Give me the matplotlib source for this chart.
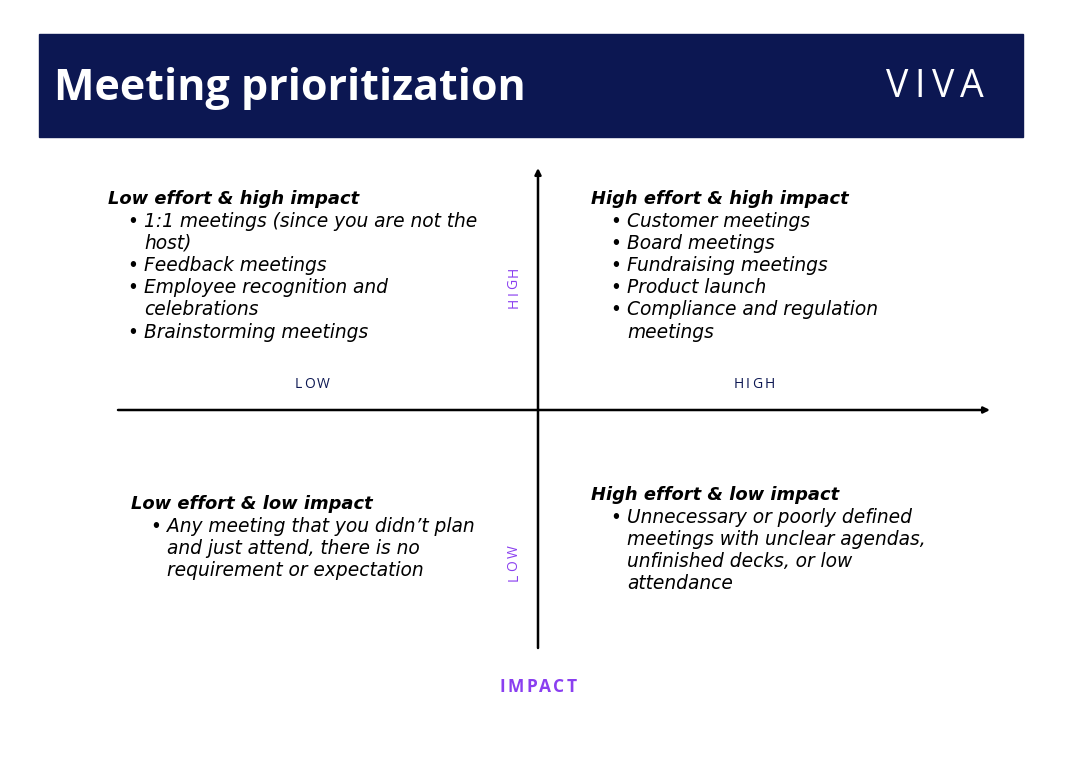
import matplotlib
matplotlib.use('Agg')
import matplotlib.pyplot as plt

W, H = 1080, 758
NAVY = '#0c1752'
PURPLE = '#8a3ff0'
HEAD_FONT = 'Open Sans'
BODY_FONT = 'DejaVu Sans'

title = 'Meeting prioritization'
logo = 'VIVA'

quadrant_titles = [
    'Low effort & high impact',
    'High effort & high impact',
    'Low effort & low impact',
    'High effort & low impact',
]
# каждый пункт уже разбит на строки, как на картинке
quadrant_items = [
    [['1:1 meetings (since you are not the', 'host)'],
     ['Feedback meetings'],
     ['Employee recognition and', 'celebrations'],
     ['Brainstorming meetings']],
    [['Customer meetings'],
     ['Board meetings'],
     ['Fundraising meetings'],
     ['Product launch'],
     ['Compliance and regulation', 'meetings']],
    [['Any meeting that you didn\u2019t plan', 'and just attend, there is no',
      'requirement or expectation']],
    [['Unnecessary or poorly defined', 'meetings with unclear agendas,',
      'unfinished decks, or low', 'attendance']],
]
effort_labels = ['LOW', 'HIGH']
impact_labels = ['HIGH', 'LOW']
impact_title = 'IMPACT'

# left x, top y of each block (px)
block_pos = [(108, 199), (591, 199), (131, 504), (591, 495)]
LINE = 22.2

fig = plt.figure(figsize=(W / 100, H / 100), dpi=100)
ax = fig.add_axes([0, 0, 1, 1])
ax.set_xlim(0, W)
ax.set_ylim(H, 0)
ax.axis('off')


def spaced(x, y, s, spacing, **kw):
    # текст с разрядкой: правый край каждой буквы = ширина префикса + разрядка
    r = fig.canvas.get_renderer()
    rot = kw.pop('rotation', 0)

    def width(part):
        t = ax.text(0, 0, part, **kw)
        w = t.get_window_extent(renderer=r).width
        t.remove()
        return w

    total = width(s) + spacing * (len(s) - 1)
    for i, ch in enumerate(s):
        c = width(s[:i + 1]) + spacing * i - total / 2
        if rot == 90:
            ax.text(x, y - c, ch, ha='right', va='center', rotation=90,
                    rotation_mode='anchor', **kw)
        else:
            ax.text(x + c, y, ch, ha='right', va='center', **kw)


# header
ax.add_patch(plt.Rectangle((39, 34), 984, 103, color=NAVY, zorder=0))
ax.text(54, 88, title, color='white', fontsize=31, fontweight='bold',
        family=HEAD_FONT, va='center', ha='left')
spaced(935, 87, logo, 6.5, color='white', fontsize=27, fontweight='normal',
       family=HEAD_FONT)

# axes
ax.annotate('', xy=(990, 410), xytext=(118, 410),
            arrowprops=dict(arrowstyle='-|>', color='black', lw=1.8,
                            mutation_scale=9, shrinkA=0, shrinkB=0))
ax.annotate('', xy=(538, 168), xytext=(538, 648),
            arrowprops=dict(arrowstyle='-|>', color='black', lw=1.8,
                            mutation_scale=9, shrinkA=0, shrinkB=0))

for x, lab in zip([312, 754], effort_labels):
    spaced(x, 385, lab, 2.2, color=NAVY, fontsize=10, family=HEAD_FONT)
for y, lab in zip([287, 563], impact_labels):
    spaced(514, y, lab, 2.2, color=PURPLE, fontsize=10, family=HEAD_FONT,
           rotation=90)
spaced(538, 687, impact_title, 2.5, color=PURPLE, fontsize=12.5, fontweight='bold',
       family=HEAD_FONT)

# quadrant text
for (x0, y0), head, items in zip(block_pos, quadrant_titles, quadrant_items):
    ax.text(x0, y0, head, fontsize=12.9, fontweight='bold', style='italic',
            family=BODY_FONT, va='center', ha='left', color='black')
    y = y0 + LINE
    for item in items:
        ax.text(x0 + 25, y, '\u2022', fontsize=13.4, family=BODY_FONT, va='center',
                ha='center', color='black')
        for line in item:
            ax.text(x0 + 36, y, line, fontsize=13.4, style='italic', family=BODY_FONT,
                    va='center', ha='left', color='black')
            y += LINE

fig.savefig('out.png', dpi=100)
